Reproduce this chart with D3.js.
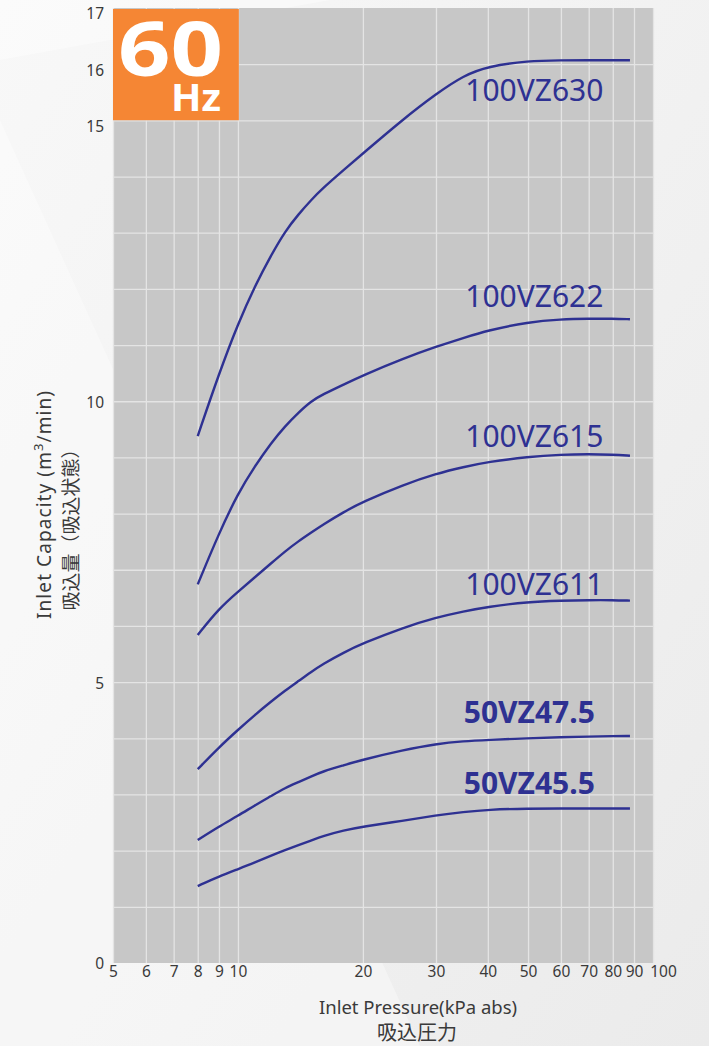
<!DOCTYPE html>
<html>
<head>
<meta charset="utf-8">
<script src="https://cdn.jsdelivr.net/npm/d3@7"></script>
<style>
  body { margin: 0; background: #efefef; }
  svg { display: block; }
</style>
</head>
<body>
<div id="chart"></div>
<script>
// 60Hz inlet capacity curves

const pressure = [8, 9, 10, 11, 12, 13, 14, 15, 16, 18, 20, 25, 30, 35, 40, 50, 60, 70, 80, 88];

const cap630 = [9.38, 10.49, 11.38, 12.06, 12.59, 13.03, 13.33, 13.58, 13.79, 14.12, 14.41, 15.02, 15.47, 15.80, 15.96, 16.06, 16.07, 16.07, 16.07, 16.07];
const cap622 = [6.74, 7.65, 8.36, 8.85, 9.25, 9.56, 9.80, 10.00, 10.12, 10.30, 10.46, 10.76, 10.97, 11.13, 11.26, 11.41, 11.46, 11.47, 11.47, 11.46];
const cap615 = [5.84, 6.31, 6.61, 6.87, 7.11, 7.33, 7.51, 7.66, 7.80, 8.03, 8.21, 8.51, 8.71, 8.83, 8.92, 9.01, 9.05, 9.06, 9.05, 9.03];
const cap611 = [3.45, 3.84, 4.15, 4.42, 4.65, 4.85, 5.02, 5.18, 5.32, 5.53, 5.69, 5.97, 6.15, 6.26, 6.34, 6.43, 6.45, 6.46, 6.46, 6.45];
const cap475 = [2.19, 2.43, 2.62, 2.81, 2.97, 3.12, 3.22, 3.32, 3.41, 3.52, 3.62, 3.79, 3.90, 3.95, 3.97, 4.00, 4.02, 4.03, 4.04, 4.04];
const cap455 = [1.37, 1.54, 1.67, 1.79, 1.91, 2.01, 2.10, 2.18, 2.26, 2.36, 2.43, 2.53, 2.63, 2.69, 2.73, 2.75, 2.75, 2.75, 2.75, 2.75];

const models = ["100VZ630", "100VZ622", "100VZ615", "100VZ611", "50VZ47.5", "50VZ45.5"];
const series = [cap630, cap622, cap615, cap611, cap475, cap455];
// label anchor in data units: [pressure, capacity of baseline]
const labelAt = [[35.3, 15.34], [35.3, 11.67], [35.3, 9.18], [35.3, 6.55], [35.0, 4.27], [35.0, 3.01]];

const xTicks = [5, 6, 7, 8, 9, 10, 20, 30, 40, 50, 60, 70, 80, 90, 100];
const yGrid = d3.range(0, 18);
const yTicks = [0, 5, 10, 15, 16, 17];

const width = 709;
const height = 1046;
const margin = {top: 8, right: 56, bottom: 83, left: 113};

const blue = "#2e3192";
const textColor = "#3a3a3a";

const x = d3.scaleLog().domain([5, 100]).range([margin.left, width - margin.right]);
const y = d3.scaleLinear().domain([0, 17]).range([height - margin.bottom, margin.top]);

const svg = d3.select("#chart").append("svg")
    .attr("width", width)
    .attr("height", height)
    .attr("viewBox", [0, 0, width, height]);

// background
const defs = svg.append("defs");
const grad = defs.append("linearGradient")
    .attr("id", "bg").attr("x1", 0).attr("y1", 0).attr("x2", 1).attr("y2", 1);
grad.append("stop").attr("offset", 0).attr("stop-color", "#f8f8f8");
grad.append("stop").attr("offset", 1).attr("stop-color", "#ebebeb");
svg.append("rect").attr("width", width).attr("height", height).attr("fill", "url(#bg)");
svg.append("path")
    .attr("d", "M0,120 L420,1046 L0,1046 Z")
    .attr("fill", "#ffffff").attr("opacity", 0.35);
svg.append("path")
    .attr("d", "M0,60 L330,0 L0,0 Z")
    .attr("fill", "#ffffff").attr("opacity", 0.4);

// plot area
svg.append("rect")
    .attr("x", x(5)).attr("y", y(17))
    .attr("width", x(100) - x(5))
    .attr("height", y(0) - y(17))
    .attr("fill", "#c7c7c7");

// grid
svg.append("g")
    .attr("transform", `translate(0,${y(0)})`)
    .call(d3.axisBottom(x).tickValues(xTicks).tickSize(-(y(0) - y(17))).tickFormat(""))
    .call(g => g.select(".domain").remove())
    .call(g => g.selectAll(".tick line").attr("stroke", "#e4e4e4").attr("stroke-width", 1.3));

svg.append("g")
    .attr("transform", `translate(${x(5)},0)`)
    .call(d3.axisLeft(y).tickValues(yGrid.filter(d => d > 0 && d < 17)).tickSize(-(x(100) - x(5))).tickFormat(""))
    .call(g => g.select(".domain").remove())
    .call(g => g.selectAll(".tick line").attr("stroke", "#e4e4e4").attr("stroke-width", 1.3));

// axis labels
svg.append("g")
    .attr("transform", `translate(0,${y(0)})`)
    .call(d3.axisBottom(x).tickValues(xTicks).tickSize(0).tickPadding(3).tickFormat(d3.format("d")))
    .call(g => g.select(".domain").remove())
    .call(g => g.selectAll(".tick text")
        .attr("font-family", "Noto Sans, sans-serif")
        .attr("font-size", 15.5)
        .attr("fill", textColor)
        .attr("dx", d => d == 100 ? 10 : 0));

svg.append("g")
    .attr("transform", `translate(${x(5)},0)`)
    .call(d3.axisLeft(y).tickValues(yTicks).tickSize(0).tickPadding(9))
    .call(g => g.select(".domain").remove())
    .call(g => g.selectAll(".tick text")
        .attr("font-family", "Noto Sans, sans-serif")
        .attr("font-size", 15.5)
        .attr("fill", textColor)
        .attr("dy", d => d >= 15 ? "0.7em" : "0.38em"));

// curves
const line = d3.line()
    .x((d, i) => x(pressure[i]))
    .y(d => y(d))
    .curve(d3.curveBasis);

svg.append("g")
  .selectAll("path")
  .data(series)
  .join("path")
    .attr("d", d => line(d))
    .attr("fill", "none")
    .attr("stroke", blue)
    .attr("stroke-width", 2.4);

svg.append("g")
  .selectAll("text")
  .data(models)
  .join("text")
    .attr("x", (d, i) => x(labelAt[i][0]))
    .attr("y", (d, i) => y(labelAt[i][1]))
    .attr("font-family", "Noto Sans, sans-serif")
    .attr("font-size", 30)
    .attr("font-weight", d => d.startsWith("50") ? "bold" : "normal")
    .attr("fill", blue)
    .text(d => d);

// 60Hz badge
const badge = svg.append("g");
badge.append("rect")
    .attr("x", x(5)).attr("y", y(17) + 1)
    .attr("width", x(10.05) - x(5))
    .attr("height", y(15.02) - y(17))
    .attr("fill", "#f58634");
badge.append("text")
    .attr("x", 118).attr("y", 76)
    .attr("font-family", "Open Sans, Noto Sans, sans-serif")
    .attr("font-weight", "bold")
    .attr("font-size", 76)
    .attr("textLength", 105)
    .attr("lengthAdjust", "spacingAndGlyphs")
    .attr("fill", "#fff")
    .text("60");
badge.append("text")
    .attr("x", 171).attr("y", 111)
    .attr("font-family", "Open Sans, Noto Sans, sans-serif")
    .attr("font-weight", "bold")
    .attr("font-size", 37)
    .attr("textLength", 50)
    .attr("lengthAdjust", "spacingAndGlyphs")
    .attr("fill", "#fff")
    .text("Hz");

// axis titles
svg.append("text")
    .attr("x", 418).attr("y", 1014)
    .attr("text-anchor", "middle")
    .attr("font-family", "Noto Sans, sans-serif")
    .attr("font-size", 18.5)
    .attr("fill", textColor)
    .text("Inlet Pressure(kPa abs)");
svg.append("text")
    .attr("x", 417).attr("y", 1040)
    .attr("text-anchor", "middle")
    .attr("font-family", "Noto Sans CJK JP, sans-serif")
    .attr("font-size", 20)
    .attr("fill", textColor)
    .text("吸込圧力");

const yt = svg.append("text")
    .attr("transform", "translate(51,505) rotate(-90)")
    .attr("text-anchor", "middle")
    .attr("font-family", "Noto Sans, sans-serif")
    .attr("font-size", 19)
    .attr("textLength", 228)
    .attr("fill", textColor);
yt.append("tspan").text("Inlet Capacity (m");
yt.append("tspan").attr("dy", -8).attr("font-size", 13).text("3");
yt.append("tspan").attr("dy", 8).text("/min)");

svg.append("text")
    .attr("transform", "translate(78,525) rotate(-90)")
    .attr("text-anchor", "middle")
    .attr("font-family", "Noto Sans CJK JP, sans-serif")
    .attr("font-size", 19)
    .attr("fill", textColor)
    .text("吸込量（吸込状態）");
</script>
</body>
</html>
